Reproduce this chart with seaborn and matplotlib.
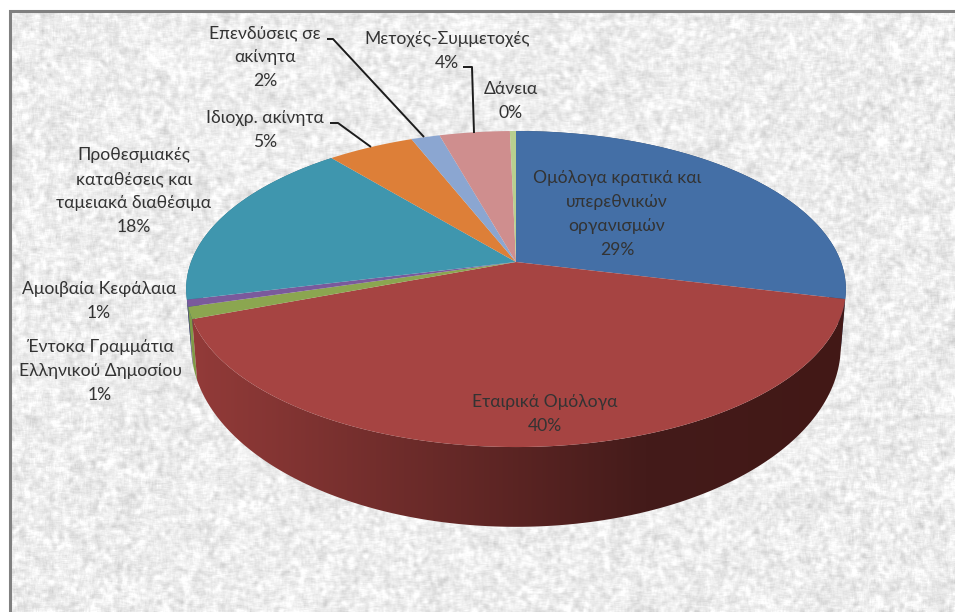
import numpy as np
import matplotlib
matplotlib.use("Agg")
import matplotlib.pyplot as plt
import seaborn as sns
from matplotlib.colors import LinearSegmentedColormap
from matplotlib.patches import Polygon
from matplotlib.path import Path
from matplotlib.transforms import Transform, Affine2D

# ---- data (shares of the pie, clockwise from the top)
categories = ["Ομόλογα κρατικά και\nυπερεθνικών\nοργανισμών",
              "Εταιρικά Ομόλογα",
              "Έντοκα Γραμμάτια\nΕλληνικού Δημοσίου",
              "Αμοιβαία Κεφάλαια",
              "Προθεσμιακές\nκαταθέσεις και\nταμειακά διαθέσιμα",
              "Ιδιοχρ. ακίνητα",
              "Επενδύσεις σε\nακίνητα",
              "Μετοχές-Συμμετοχές",
              "Δάνεια"]
values = [28.6, 40.4, 1.2, 0.7, 17.6, 5.0, 1.65, 4.05, 0.35]
percent_labels = ["29%", "40%", "1%", "1%", "18%", "5%", "2%", "4%", "0%"]
top_colors = ["#446FA6", "#A64442", "#8BA650", "#7A5A9C", "#3F96AE",
              "#DD7F38", "#8BA6D1", "#CF8E8E", "#B8CF8F"]
wall_colors = ["#2a4364", "#431917", "#7f9a47", "#5a4274", "#2b6a7c",
               "#96561f", "#5f7391", "#8f6262", "#7f8f62"]
label_xy = [(617, 214), (545, 414), (100, 371), (99, 301), (134, 191),
            (265, 130), (265, 57), (447, 51), (511, 101)]
leaders = {5: [(330, 123), (338, 123), (371, 147)],
           6: [(327, 39), (333, 39), (424, 137)],
           7: [(463, 67), (472, 67), (474, 133)]}

FONT = "Lato"
sns.set_theme(style="white")
plt.rcParams["font.family"] = [FONT, "Open Sans", "DejaVu Sans"]


class Perspective(Transform):
    """Unit-circle pie plane -> tilted plane in picture coordinates."""
    input_dims = output_dims = 2
    is_separable = False
    has_inverse = False

    def __init__(self, cx, cy, sx, sy, k=0.171):
        super().__init__()
        self.cx, self.cy, self.sx, self.sy, self.k = cx, cy, sx, sy, k

    def transform_non_affine(self, values):
        values = np.asarray(values, float)
        d = 1 + self.k * values[:, 1]
        return np.column_stack([self.cx + self.sx * values[:, 0] / d,
                                self.cy - self.sy * values[:, 1] / d])

    def transform_path_non_affine(self, path):
        polys = path.transformed(Affine2D().scale(3000)).to_polygons(closed_only=True)
        return Path(self.transform_non_affine(polys[0] / 3000), closed=True)


top_plane = Perspective(516, 262, 325, 153.4)
bottom_plane = Perspective(516, 315, 320, 175.6)

fig = plt.figure(figsize=(9.55, 6.12), dpi=100)
ax = fig.add_axes([0, 0, 1, 1])

# textured backdrop: deterministic integer hash, softened by box blurs
h, w = 612, 955
yy, xx = np.mgrid[0:h, 0:w].astype(np.uint64)
def hash_noise(seed):
    v = xx * np.uint64(73856093) ^ yy * np.uint64(19349663) ^ np.uint64(seed)
    for _ in range(3):
        v = (v ^ (v >> np.uint64(13))) * np.uint64(1274126177)
        v = v & np.uint64(0xFFFFFFFF)
    return v.astype(float) / 2**32
def blur(img, r):
    ker = np.ones(2 * r + 1) / (2 * r + 1)
    pad = np.pad(img, r, mode="reflect")
    pad = np.apply_along_axis(lambda m: np.convolve(m, ker, mode="same"), 0, pad)
    pad = np.apply_along_axis(lambda m: np.convolve(m, ker, mode="same"), 1, pad)
    return pad[r:-r, r:-r]
n1 = blur(hash_noise(17), 2)
n2 = blur(hash_noise(91), 6)
tex = 237 + (n1 - n1.mean()) / n1.std() * 8 + (n2 - n2.mean()) / n2.std() * 3
tex = np.clip(tex, 200, 255)
tex[:10, :] = 255
tex[:, :9] = 255
ax.imshow(tex, cmap="gray", vmin=0, vmax=255, extent=(0, w, h, 0),
          aspect="auto", interpolation="bilinear", zorder=0)
ax.plot([10, 10, 955], [612, 11, 11], color="#808080", lw=2.2, zorder=1,
        solid_joinstyle="miter")

# the pie itself
wedges, _ = ax.pie(values, colors=sns.color_palette(top_colors), startangle=90,
                   counterclock=False, radius=1,
                   wedgeprops=dict(linewidth=0))
for wd in wedges:
    wd.set_transform(top_plane + ax.transData)
    wd.set_zorder(5)
    wd.set_clip_on(False)

# side wall
def wall_vertices(wd):
    th = np.radians(np.linspace(wd.theta1, wd.theta2, 300))
    ring = np.column_stack([np.cos(th), np.sin(th)])
    return np.vstack([top_plane.transform_non_affine(ring),
                      bottom_plane.transform_non_affine(ring)[::-1]])

for idx in [0, 4, 3, 2]:
    ax.add_patch(Polygon(wall_vertices(wedges[idx]), closed=True, lw=0,
                         facecolor=wall_colors[idx], zorder=3))
red_wall = Polygon(wall_vertices(wedges[1]), closed=True, lw=0,
                   facecolor="none", transform=ax.transData)
ax.add_patch(red_wall)
cm = LinearSegmentedColormap.from_list(
    "wall", [(0, "#933B39"), (0.69, "#441B1A"), (1, "#421816")])
ramp = np.linspace(0, 1, 256)[None, :]
im = ax.imshow(ramp, cmap=cm, extent=(190, 850, 530, 290), aspect="auto", zorder=4)
im.set_clip_path(red_wall)

# leader lines
for pts in leaders.values():
    px, py = zip(*pts)
    ax.plot(px, py, color="#1c1c1c", lw=1.4, zorder=6, solid_capstyle="butt")

# labels
for name, pct, (lx, ly) in zip(categories, percent_labels, label_xy):
    ax.text(lx, ly, f"{name}\n{pct}", ha="center", va="center", fontsize=12.6,
            color="#333333", linespacing=1.59, zorder=7)

ax.set_xlim(0, w)
ax.set_ylim(h, 0)
ax.set_aspect("auto")
ax.axis("off")
fig.savefig("out.png", dpi=100)
